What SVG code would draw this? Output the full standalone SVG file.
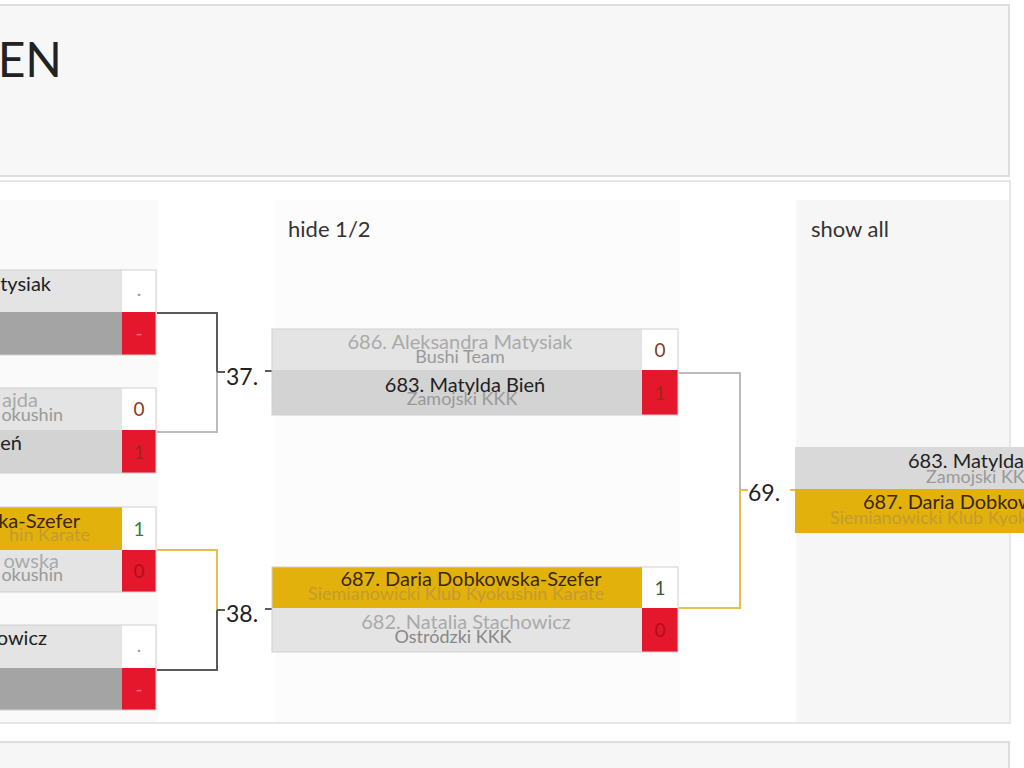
<svg xmlns="http://www.w3.org/2000/svg" width="1024" height="768" viewBox="0 0 1024 768">
<defs>
<style>
text{font-family:Lato,"Open Sans","Liberation Sans",sans-serif}
.nm{font-size:20px;text-anchor:middle}
.cl{font-size:18px;text-anchor:middle}
.lnm{font-size:20px;text-anchor:end}
.lcl{font-size:18px;text-anchor:end}
.sc{font-size:19px;text-anchor:middle}
.lab{font-size:23px;fill:#222}
.dark{fill:#222}
.fade{fill:#aaa}
.club{fill:#999}
.ybrown{fill:#3a2800}
.yclub{fill:#c49a32}
.rowL{fill:#e4e4e4}
.rowM{fill:#d3d3d3}
.rowD{fill:#a4a4a4}
.rowY{fill:#e2b10c}
.white{fill:#ffffff}
.red{fill:#e5172d}
.bx{fill:none;stroke:#cfcfcf;stroke-width:1}
.cn{fill:none;stroke-width:2}
.cd{stroke:#5a5a5a}
.cg{stroke:#bcbcbc}
.cy{stroke:#e2c050}
</style>
</defs>
<rect x="0" y="0" width="1024" height="768" fill="#ffffff"/>
<!-- top panel -->
<rect x="-5" y="5" width="1014" height="171" fill="#f7f7f7" stroke="#dedede" stroke-width="2"/>
<text x="62" y="77" font-size="48" fill="#222" text-anchor="end">EN</text>
<!-- body panel -->
<rect x="-5" y="181" width="1015" height="542" fill="#ffffff" stroke="#e6e6e6" stroke-width="2"/>
<rect x="0" y="200" width="158" height="522" fill="#fafafa"/>
<rect x="275" y="200" width="405" height="522" fill="#fcfcfc"/>
<rect x="796" y="200" width="213" height="522" fill="#f6f6f6"/>
<text x="288" y="237" font-size="22" fill="#333">hide 1/2</text>
<text x="811" y="237" font-size="22" fill="#333">show all</text>
<!-- bottom panel -->
<rect x="-5" y="742" width="1014" height="40" fill="#f6f6f6" stroke="#dedede" stroke-width="2"/>

<g id="connectors">
<path class="cn cd" d="M157,313 H217 V372"/>
<path class="cn cg" d="M217,372 V432 H157"/>
<path class="cn cd" d="M217,372 H225"/>
<text class="lab" x="226" y="385">37.</text>
<path class="cn cd" d="M265,371 H272" stroke-width="1.5"/>

<path class="cn cy" d="M157,550 H217 V610"/>
<path class="cn cd" d="M217,610 V670 H157"/>
<path class="cn cd" d="M217,610 H225"/>
<text class="lab" x="226" y="622">38.</text>
<path class="cn cd" d="M265,609 H272" stroke-width="1.5"/>

<path class="cn cg" d="M679,373 H740 V490"/>
<path class="cn cy" d="M740,490 V608 H679"/>
<path class="cn cy" d="M740,490 H748"/>
<text class="lab" x="748" y="501">69.</text>
<path class="cn cy" d="M790,490 H796" stroke-width="1.5"/>
</g>

<g id="match-box1">
<rect class="rowL" x="-2" y="270" width="124" height="42"/>
<rect class="white" x="122" y="270" width="34" height="42"/>
<rect class="rowD" x="-2" y="312" width="124" height="43"/>
<rect class="red" x="122" y="312" width="34" height="43"/>
<rect class="bx" x="-2" y="270" width="158" height="85"/>
<text class="lnm dark" x="51" y="291">tysiak</text>
<text class="sc" x="139" y="296" fill="#999">.</text>
<text class="sc" x="139" y="340" fill="#f07080">-</text>
</g>

<g id="match-box2">
<rect class="rowL" x="-2" y="388" width="124" height="42"/>
<rect class="white" x="122" y="388" width="34" height="42"/>
<rect class="rowM" x="-2" y="430" width="124" height="43"/>
<rect class="red" x="122" y="430" width="34" height="43"/>
<rect class="bx" x="-2" y="388" width="158" height="85"/>
<text class="lnm fade" x="38" y="407">ajda</text>
<text class="lcl club" x="63" y="421">okushin</text>
<text class="lnm dark" x="22" y="450">eń</text>
<text class="sc" x="139" y="416" fill="#8a3a22">0</text>
<text class="sc" x="139" y="459" fill="#9a2a18">1</text>
</g>

<g id="match-box3">
<rect class="rowY" x="-2" y="507" width="124" height="43"/>
<rect class="white" x="122" y="507" width="34" height="43"/>
<rect class="rowL" x="-2" y="550" width="124" height="42"/>
<rect class="red" x="122" y="550" width="34" height="42"/>
<rect class="bx" x="-2" y="507" width="158" height="85"/>
<text class="lnm ybrown" x="80" y="528">ka-Szefer</text>
<text class="lcl yclub" x="90" y="541">hin Karate</text>
<text class="lnm fade" x="59" y="568">owska</text>
<text class="lcl club" x="63" y="581">okushin</text>
<text class="sc" x="139" y="536" fill="#3a7a3a">1</text>
<text class="sc" x="139" y="578" fill="#b0101a">0</text>
</g>

<g id="match-box4">
<rect class="rowL" x="-2" y="625" width="124" height="43"/>
<rect class="white" x="122" y="625" width="34" height="43"/>
<rect class="rowD" x="-2" y="668" width="124" height="42"/>
<rect class="red" x="122" y="668" width="34" height="42"/>
<rect class="bx" x="-2" y="625" width="158" height="85"/>
<text class="lnm dark" x="47" y="645">owicz</text>
<text class="sc" x="139" y="652" fill="#999">.</text>
<text class="sc" x="139" y="696" fill="#f07080">-</text>
</g>

<g id="match-37">
<rect class="rowL" x="272" y="329" width="370" height="41"/>
<rect class="white" x="642" y="329" width="36" height="41"/>
<rect class="rowM" x="272" y="370" width="370" height="45"/>
<rect class="red" x="642" y="370" width="36" height="45"/>
<rect class="bx" x="272" y="329" width="406" height="86"/>
<text class="nm fade" x="460" y="349">686. Aleksandra Matysiak</text>
<text class="cl club" x="460" y="363">Bushi Team</text>
<text class="nm dark" x="465" y="392">683. Matylda Bień</text>
<text class="cl club" x="462" y="405">Zamojski KKK</text>
<text class="sc" x="660" y="357" fill="#8a3a22">0</text>
<text class="sc" x="660" y="400" fill="#9a2a18">1</text>
</g>

<g id="match-38">
<rect class="rowY" x="272" y="567" width="370" height="41"/>
<rect class="white" x="642" y="567" width="36" height="41"/>
<rect class="rowL" x="272" y="608" width="370" height="44"/>
<rect class="red" x="642" y="608" width="36" height="44"/>
<rect class="bx" x="272" y="567" width="406" height="85"/>
<text class="nm ybrown" x="471" y="586">687. Daria Dobkowska-Szefer</text>
<text class="cl yclub" x="456" y="600">Siemianowicki Klub Kyokushin Karate</text>
<text class="nm fade" x="466" y="629">682. Natalia Stachowicz</text>
<text class="cl club" x="453" y="643" style="fill:#888">Ostródzki KKK</text>
<text class="sc" x="660" y="595" fill="#3a5a3a">1</text>
<text class="sc" x="660" y="637" fill="#b0101a">0</text>
</g>

<g id="match-69">
<rect x="795" y="447" width="240" height="42" fill="#d9d9d9"/>
<rect class="rowY" x="795" y="489" width="240" height="44"/>
<text x="908" y="468" font-size="20" fill="#222">683. Matylda Bień</text>
<text x="926" y="483" font-size="18" fill="#999">Zamojski KKK</text>
<text x="863" y="509" font-size="20" class="ybrown">687. Daria Dobkowska-Szefer</text>
<text x="830" y="524" font-size="18" class="yclub">Siemianowicki Klub Kyokushin Karate</text>
</g>
</svg>
